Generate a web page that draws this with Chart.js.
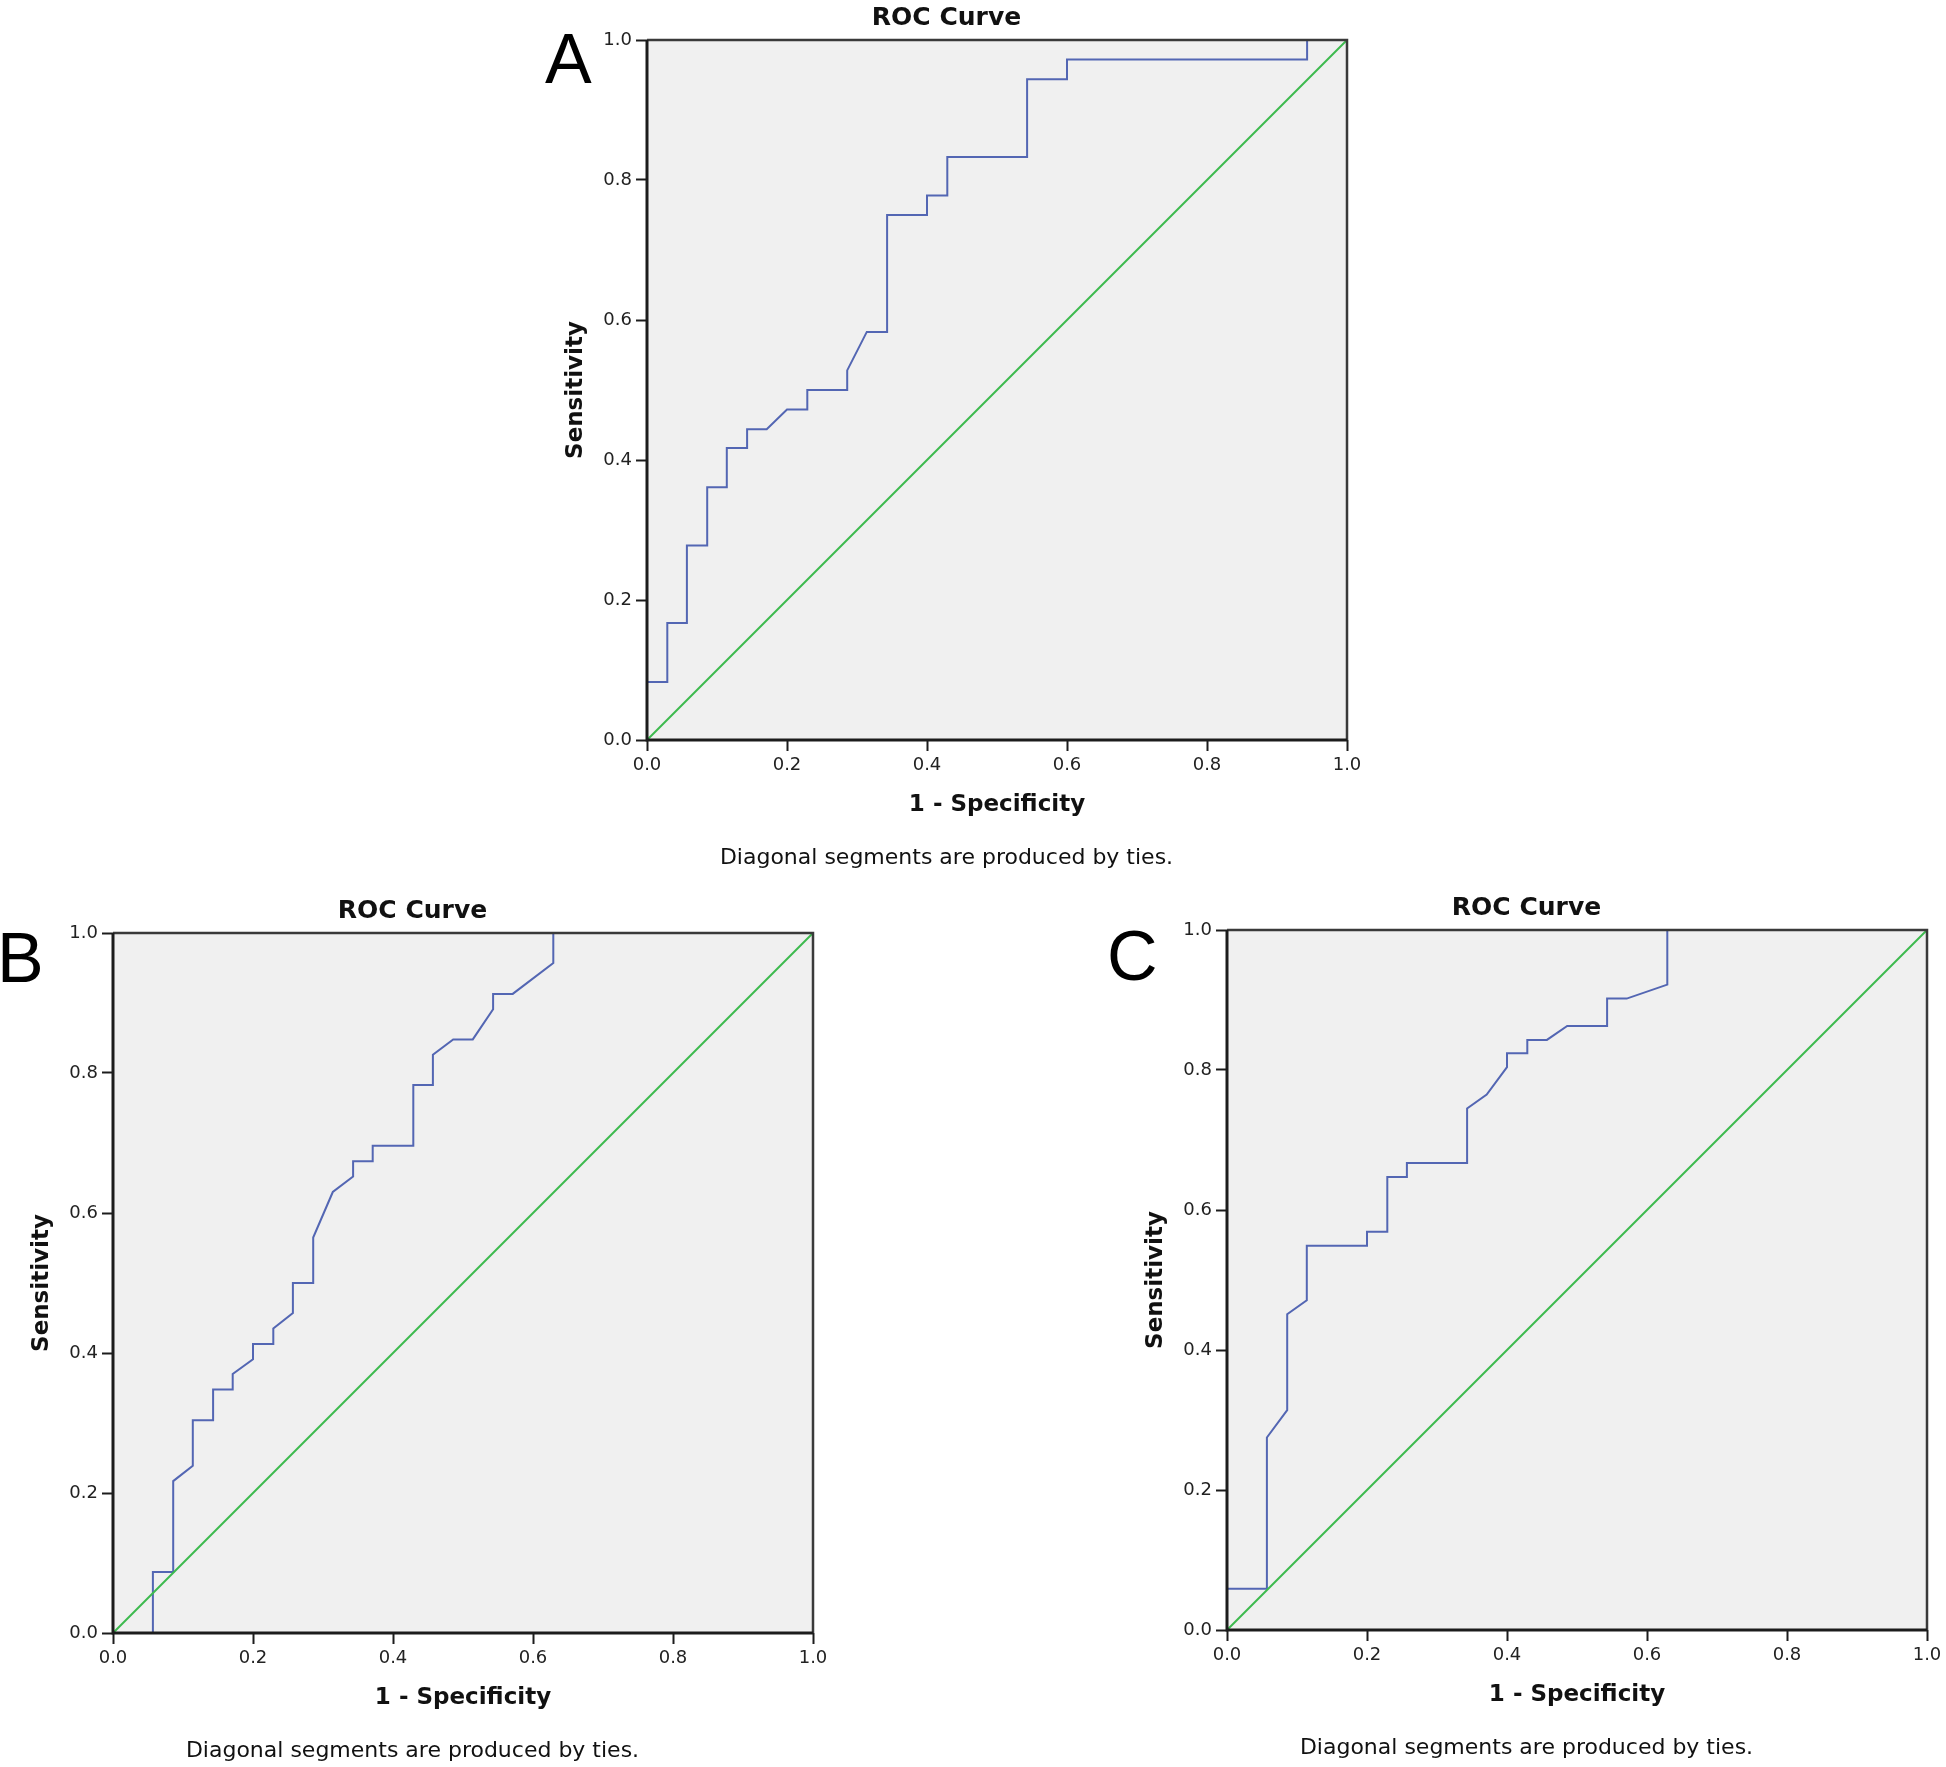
<!DOCTYPE html>
<html>
<head>
<meta charset="utf-8">
<title>ROC Curves</title>
<script src="https://cdn.jsdelivr.net/npm/chart.js@4.4.1/dist/chart.umd.min.js"></script>
<style>
  html, body { margin: 0; padding: 0; background: #fff; }
  body { width: 1946px; height: 1767px; position: relative; overflow: hidden; }
  .panel { position: absolute; overflow: hidden; }
  .panel canvas { position: absolute; left: 0; top: 0; }
  .letter { position: absolute; font-family: "Liberation Sans", Arial, sans-serif; font-size: 70px; line-height: 70px; color: #000; }
</style>
</head>
<body>
<div id="page"></div>
<script>
// ---- data ----
const TICK_VALUES = [0, 0.2, 0.4, 0.6, 0.8, 1.0];

// A
const fprA  = [0, 0, 0.029, 0.029, 0.057, 0.057, 0.086, 0.086, 0.114, 0.114, 0.143, 0.143, 0.171, 0.2, 0.229, 0.229,
               0.286, 0.286, 0.314, 0.343, 0.343, 0.4, 0.4, 0.429, 0.429, 0.543, 0.543, 0.6, 0.6, 0.943, 0.943, 1];
const sensA = [0, 0.083, 0.083, 0.167, 0.167, 0.278, 0.278, 0.361, 0.361, 0.417, 0.417, 0.444, 0.444, 0.472, 0.472, 0.5,
               0.5, 0.528, 0.583, 0.583, 0.75, 0.75, 0.778, 0.778, 0.833, 0.833, 0.944, 0.944, 0.972, 0.972, 1, 1];

// B
const fprB  = [0, 0.057, 0.057, 0.086, 0.086, 0.114, 0.114, 0.143, 0.143, 0.171, 0.171, 0.2, 0.2, 0.229, 0.229, 0.257,
               0.257, 0.286, 0.286, 0.314, 0.343, 0.343, 0.371, 0.371, 0.429, 0.429, 0.457, 0.457, 0.486, 0.514, 0.543,
               0.543, 0.571, 0.629, 0.629, 1];
const sensB = [0, 0, 0.087, 0.087, 0.217, 0.239, 0.304, 0.304, 0.348, 0.348, 0.370, 0.391, 0.413, 0.413, 0.435, 0.457,
               0.5, 0.5, 0.565, 0.630, 0.652, 0.674, 0.674, 0.696, 0.696, 0.783, 0.783, 0.826, 0.848, 0.848, 0.891,
               0.913, 0.913, 0.957, 1, 1];

// C
const fprC  = [0, 0, 0.057, 0.057, 0.086, 0.086, 0.114, 0.114, 0.2, 0.2, 0.229, 0.229, 0.257, 0.257, 0.343, 0.343,
               0.371, 0.4, 0.4, 0.429, 0.429, 0.457, 0.486, 0.543, 0.543, 0.571, 0.629, 0.629, 1];
const sensC = [0, 0.059, 0.059, 0.275, 0.314, 0.451, 0.471, 0.549, 0.549, 0.569, 0.569, 0.647, 0.647, 0.667, 0.667, 0.745,
               0.765, 0.804, 0.824, 0.824, 0.843, 0.843, 0.863, 0.863, 0.902, 0.902, 0.922, 1, 1];

// reference diagonal
const diagFpr  = [0, 1];
const diagSens = [0, 1];

const TITLE_TEXT = 'ROC Curve';
const X_TITLE = '1 - Specificity';
const Y_TITLE = 'Sensitivity';
const NOTE_TEXT = 'Diagonal segments are produced by ties.';

// ---- layout ----
const FONT = '"DejaVu Sans", Verdana, sans-serif';
const PLOT = 700;        // plot area side
const Y_AXIS_W = 101;    // y axis box width
const SIDE_PAD = 40;
const TITLE_PAD = { top: 4, bottom: 7 };          // 4 + 30 + 7 = 41 above plot
const TOP_STACK = 41;
const TICK_LEN = 11, TICK_PAD = 4;
const X_TITLE_PAD = { top: 14.6, bottom: 2 };
const X_AXIS_H = TICK_LEN + TICK_PAD + 18 * 1.2 + X_TITLE_PAD.top + 23 * 1.2 + X_TITLE_PAD.bottom;
const NOTE_PAD = { top: 24.5, bottom: 4 };
const BOTTOM_STACK = X_AXIS_H + NOTE_PAD.top + 22 * 1.2 + NOTE_PAD.bottom;

const panels = [
  { id: 'rocA', letter: 'A', fpr: fprA, sens: sensA, plotLeft: 647, plotTop: 40,  clipBottom: 868,  letterX: 545,  letterBase: 83 },
  { id: 'rocB', letter: 'B', fpr: fprB, sens: sensB, plotLeft: 113, plotTop: 933, clipBottom: 1767, letterX: -3,   letterBase: 982 },
  { id: 'rocC', letter: 'C', fpr: fprC, sens: sensC, plotLeft: 1227, plotTop: 930, clipBottom: 1767, letterX: 1107, letterBase: 980 },
];

const plotFrame = {
  id: 'plotFrame',
  beforeDraw(chart) {
    const { ctx, chartArea: a } = chart;
    ctx.save();
    ctx.fillStyle = '#f0f0f0';
    ctx.fillRect(a.left, a.top, a.width, a.height);
    ctx.restore();
  },
  afterDatasetsDraw(chart) {
    const { ctx, chartArea: a } = chart;
    ctx.save();
    ctx.strokeStyle = '#3a3a3a';
    ctx.lineWidth = 2.5;
    ctx.beginPath();
    ctx.moveTo(a.left, a.top); ctx.lineTo(a.right, a.top); ctx.lineTo(a.right, a.bottom);
    ctx.stroke();
    ctx.strokeStyle = '#1c1c1c';
    ctx.lineWidth = 3;
    ctx.beginPath();
    ctx.moveTo(a.left, a.top); ctx.lineTo(a.left, a.bottom); ctx.lineTo(a.right, a.bottom);
    ctx.stroke();
    ctx.restore();
  }
};

function axis(title, isY) {
  return {
    type: 'linear', min: 0, max: 1,
    afterBuildTicks: s => { s.ticks = TICK_VALUES.map(value => ({ value })); },
    afterFit: isY
      ? (s => { s.width = Y_AXIS_W; s.paddingTop = 0; s.paddingBottom = 0; })
      : (s => { s.height = X_AXIS_H; s.paddingLeft = 0; s.paddingRight = 0; }),
    grid: { display: true, drawOnChartArea: false, drawTicks: true, tickLength: TICK_LEN, tickColor: '#1c1c1c', tickWidth: 2 },
    border: { display: false },
    ticks: {
      autoSkip: false, maxRotation: 0, minRotation: 0, padding: TICK_PAD,
      color: '#222', font: { family: FONT, size: 18 },
      callback: v => Number(v).toFixed(1),
    },
    title: {
      display: true, text: title, color: '#111',
      font: { family: FONT, size: 23, weight: 'bold' },
      padding: isY ? { top: Y_AXIS_W - 70.5 - 13.8, bottom: 0 } : X_TITLE_PAD,
    },
  };
}

const page = document.getElementById('page');
const canvasW = Y_AXIS_W + PLOT + 2 * SIDE_PAD;
const canvasH = Math.ceil(TOP_STACK + PLOT + BOTTOM_STACK);

panels.forEach(p => {
  const left = p.plotLeft - Y_AXIS_W - SIDE_PAD;
  const top = p.plotTop - TOP_STACK;

  const box = document.createElement('div');
  box.className = 'panel';
  box.style.left = left + 'px';
  box.style.top = top + 'px';
  box.style.width = canvasW + 'px';
  box.style.height = Math.min(canvasH, p.clipBottom - top) + 'px';
  const canvas = document.createElement('canvas');
  canvas.id = p.id;
  canvas.width = canvasW;
  canvas.height = canvasH;
  canvas.style.width = canvasW + 'px';
  canvas.style.height = canvasH + 'px';
  box.appendChild(canvas);
  page.appendChild(box);

  const letter = document.createElement('div');
  letter.className = 'letter';
  letter.textContent = p.letter;
  letter.style.left = p.letterX + 'px';
  letter.style.top = (p.letterBase - 59.25) + 'px';
  page.appendChild(letter);

  new Chart(canvas.getContext('2d'), {
    type: 'scatter',
    data: {
      datasets: [
        {
          label: 'ROC',
          data: p.fpr.map((x, i) => ({ x, y: p.sens[i] })),
          showLine: true, borderColor: '#5366b3', borderWidth: 2, pointRadius: 0, tension: 0, fill: false,
          clip: 3, order: 1,
        },
        {
          label: 'Reference',
          data: diagFpr.map((x, i) => ({ x, y: diagSens[i] })),
          showLine: true, borderColor: '#3dba4e', borderWidth: 2, pointRadius: 0, tension: 0, fill: false,
          clip: 3, order: 0,
        },
      ],
    },
    options: {
      responsive: false, animation: false, devicePixelRatio: 1, events: [],
      layout: { padding: { left: SIDE_PAD, right: SIDE_PAD, top: 0, bottom: canvasH - (TOP_STACK + PLOT + BOTTOM_STACK) } },
      plugins: {
        legend: { display: false },
        tooltip: { enabled: false },
        title: {
          display: true, text: TITLE_TEXT, color: '#111',
          font: { family: FONT, size: 25, weight: 'bold' },
          padding: TITLE_PAD,
        },
        subtitle: {
          display: true, position: 'bottom', text: NOTE_TEXT, color: '#111',
          font: { family: FONT, size: 22, weight: 'normal' },
          padding: NOTE_PAD,
        },
      },
      scales: { x: axis(X_TITLE, false), y: axis(Y_TITLE, true) },
    },
    plugins: [plotFrame],
  });
});
</script>
</body>
</html>
